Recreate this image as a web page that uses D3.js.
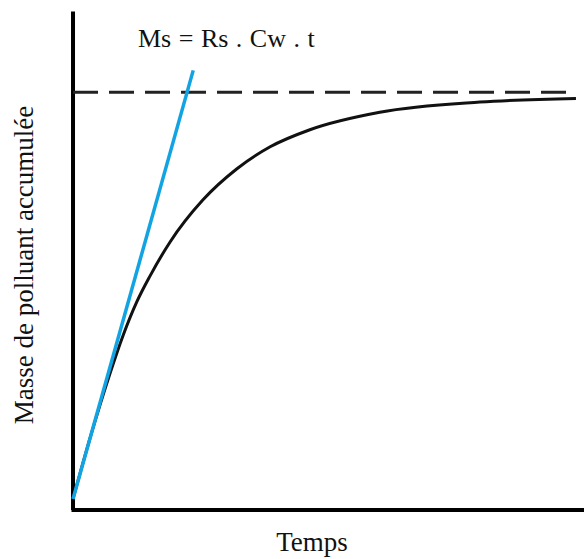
<!DOCTYPE html>
<html>
<head>
<meta charset="utf-8">
<script src="https://cdn.jsdelivr.net/npm/d3@7"></script>
<style>
	body { margin: 0; background: white; }
</style>
</head>
<body>
<div id="chart"></div>
<script>
// accumulated mass curve (time and mass in relative units)
const timeValues = [0, 0.34, 0.74, 0.99, 1.27, 1.53, 1.93, 2.58, 3.26, 3.92, 4.71, 6.10, 8.09, 10];
const massValues = [0, 0.15, 0.31, 0.40, 0.485, 0.548, 0.632, 0.735, 0.812, 0.866, 0.908, 0.951, 0.976, 0.985];

// initial slope line (Ms = Rs . Cw . t)
const tangentTime = [0, 2.39];
const tangentMass = [0, 1.054];

// saturation level (dashed)
const limitTime = [0, 9.82];
const limitMass = [1, 1];

const xLabel = 'Temps';
const yLabel = 'Masse de polluant accumulée';
const formula = 'Ms = Rs . Cw . t';

const serif = '"Liberation Serif", "Times New Roman", Times, "DejaVu Serif", serif';

let width = 584,
	height = 559;

let svg = d3.select('#chart')
	.append('svg')
	.attr('width', width)
	.attr('height', height)
	.style('background', 'white');

// scales
let x = d3.scaleLinear()
	.domain([-0.04, 10.16])
	.range([71, 584]);

let y = d3.scaleLinear()
	.domain([-0.026, 1.2])
	.range([509.5, 11]);

// axes without ticks
svg.append('g')
	.attr('transform', 'translate(0,' + y(-0.026) + ')')
	.call(d3.axisBottom(x).ticks(0).tickSizeOuter(0))
	.select('.domain')
	.attr('stroke', '#000')
	.attr('stroke-width', 4);

svg.append('g')
	.attr('transform', 'translate(' + (x(0) - 0.5) + ',0)')
	.call(d3.axisLeft(y).ticks(0).tickSizeOuter(0))
	.select('.domain')
	.attr('stroke', '#000')
	.attr('stroke-width', 4);

let line = d3.line()
	.x(d => x(d[0]))
	.y(d => y(d[1]));

// dashed asymptote
svg.append('path')
	.datum(d3.zip(limitTime, limitMass))
	.attr('d', line)
	.attr('fill', 'none')
	.attr('stroke', '#222')
	.attr('stroke-width', 3)
	.attr('stroke-dasharray', '25 11');

// accumulation curve
svg.append('path')
	.datum(d3.zip(timeValues, massValues))
	.attr('d', d3.line().x(d => x(d[0])).y(d => y(d[1])).curve(d3.curveMonotoneX))
	.attr('fill', 'none')
	.attr('stroke', '#111')
	.attr('stroke-width', 3);

// tangent line
svg.append('path')
	.datum(d3.zip(tangentTime, tangentMass))
	.attr('d', line)
	.attr('fill', 'none')
	.attr('stroke', '#12a3e3')
	.attr('stroke-width', 3.5);

// labels
svg.append('text')
	.attr('x', 138)
	.attr('y', 47)
	.attr('font-family', serif)
	.attr('fill', '#111')
	.style('font-size', '26px')
	.style('word-spacing', '1px')
	.text(formula);

svg.append('text')
	.attr('x', 312)
	.attr('y', 551)
	.attr('text-anchor', 'middle')
	.attr('font-family', serif)
	.attr('fill', '#111')
	.style('font-size', '27px')
	.text(xLabel);

svg.append('text')
	.attr('transform', 'translate(33,265) rotate(-90)')
	.attr('text-anchor', 'middle')
	.attr('font-family', serif)
	.attr('fill', '#111')
	.style('font-size', '27px')
	.text(yLabel);
</script>
</body>
</html>
